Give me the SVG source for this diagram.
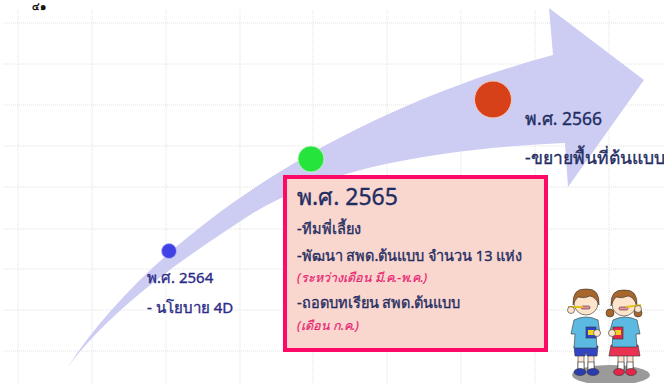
<svg xmlns="http://www.w3.org/2000/svg" width="664" height="383" viewBox="0 0 664 383">
  <style>
    .grid line { stroke: #e2e2e2; stroke-width: 1; stroke-dasharray: 1 1; }
    .t { font-family: "Noto Sans", "DejaVu Sans", sans-serif; }
    .navy { fill: #1f2d62; stroke: #1f2d62; stroke-width: 0.35; }
    .purple { fill: #2b2b88; stroke: #2b2b88; stroke-width: 0.35; }
    .note { fill: #ea1f72; stroke: #ea1f72; stroke-width: 0.2; font-style: italic; font-size: 12.5px; }
    .line { font-size: 14.5px; }
  </style>

  <rect width="664" height="383" fill="#ffffff"/>

  <!-- background grid -->
  <g class="grid">
    <line x1="3" y1="23" x2="664" y2="23"/>
    <line x1="3" y1="64" x2="664" y2="64"/>
    <line x1="3" y1="105" x2="664" y2="105"/>
    <line x1="3" y1="146" x2="664" y2="146"/>
    <line x1="3" y1="187" x2="664" y2="187"/>
    <line x1="3" y1="229" x2="664" y2="229"/>
    <line x1="3" y1="269" x2="664" y2="269"/>
    <line x1="3" y1="310" x2="664" y2="310"/>
    <line x1="3" y1="351" x2="664" y2="351"/>
    <line x1="18" y1="10" x2="18" y2="383"/>
    <line x1="92" y1="10" x2="92" y2="383"/>
    <line x1="166" y1="10" x2="166" y2="383"/>
    <line x1="240" y1="10" x2="240" y2="383"/>
    <line x1="313" y1="10" x2="313" y2="383"/>
    <line x1="387" y1="10" x2="387" y2="383"/>
    <line x1="461" y1="10" x2="461" y2="383"/>
    <line x1="535" y1="10" x2="535" y2="383"/>
    <line x1="609" y1="10" x2="609" y2="383"/>
  </g>

  <!-- page number -->
  <text class="t" x="32" y="10" font-size="10" font-weight="bold" fill="#111">๔๑</text>

  <!-- curved timeline arrow -->
  <g id="arrow">
    <path d="M67 368 C150 240 330 115 553 55 L549 8 L644 80 L568 187 L565 143 C450 148 330 165 250 215 C180 260 110 310 67 368 Z" fill="#cdcdf4"/>
  </g>

  <!-- milestone dots -->
  <g id="dot-2564"><circle cx="169" cy="251" r="7.5" fill="#4141e6" stroke="#b8b8f2" stroke-width="0.8"/></g>
  <g id="dot-2565"><circle cx="311" cy="159" r="13" fill="#25e43c" stroke="#c8f5cc" stroke-width="0.8"/></g>
  <g id="dot-2566"><circle cx="493" cy="99.5" r="18.5" fill="#d6411a" stroke="#f3c9bb" stroke-width="1"/></g>

  <!-- 2564 -->
  <g id="label-2564" class="t purple">
    <text x="147" y="283" font-size="15">พ.ศ. 2564</text>
    <text x="147" y="313" font-size="15">- นโยบาย 4D</text>
  </g>

  <!-- 2566 -->
  <g id="label-2566" class="t navy">
    <text x="525" y="125" font-size="17.5">พ.ศ. 2566</text>
    <text x="525" y="164" font-size="17.5">-ขยายพื้นที่ต้นแบบ</text>
  </g>

  <!-- 2565 detail box -->
  <g id="box-2565">
    <rect x="285" y="177" width="261" height="173" fill="#f9d6ce" stroke="#fc0a66" stroke-width="4"/>
    <g class="t">
      <text class="navy" x="297" y="205" font-size="23">พ.ศ. 2565</text>
      <text class="navy line" x="297" y="234">-ทีมพี่เลี้ยง</text>
      <text class="navy line" x="297" y="261">-พัฒนา สพด.ต้นแบบ จำนวน 13 แห่ง</text>
      <text class="note" x="297" y="282">(ระหว่างเดือน มี.ค.-พ.ค.)</text>
      <text class="navy line" x="297" y="308">-ถอดบทเรียน สพด.ต้นแบบ</text>
      <text class="note" x="297" y="330">(เดือน ก.ค.)</text>
    </g>
  </g>

  <!-- two children brushing their teeth -->
  <g id="kids" stroke="#333" stroke-width="0.6">
    <ellipse cx="611" cy="375" rx="39" ry="10" fill="#9a9a9a" stroke="none"/>
    <!-- boy -->
    <rect x="578" y="354" width="6" height="16" fill="#ffe7d3"/>
    <rect x="588" y="354" width="6" height="16" fill="#ffe7d3"/>
    <rect x="578" y="362" width="6" height="8" fill="#fff"/>
    <rect x="588" y="362" width="6" height="8" fill="#fff"/>
    <ellipse cx="580" cy="372" rx="6" ry="3.5" fill="#2b3cb0"/>
    <ellipse cx="593" cy="372" rx="6" ry="3.5" fill="#2b3cb0"/>
    <path d="M574 346 L598 346 L597 356 L587 356 L586 352 L585 356 L575 356 Z" fill="#3145c4"/>
    <path d="M574 320 Q586 314 598 320 L600 334 L596 334 L597 348 L574 348 L575 334 L571 334 Z" fill="#5cb9e2"/>
    <circle cx="586" cy="303" r="12" fill="#ffe4cc"/>
    <path d="M573 305 Q572 288 586 289 Q600 288 599 305 Q596 297 590 296 Q585 299 578 297 Q575 300 573 305 Z" fill="#a7672c"/>
    <rect x="581" y="306" width="9" height="3" rx="1.5" fill="#f08aa0"/>
    <line x1="568" y1="307" x2="583" y2="307" stroke="#e5c21a" stroke-width="2"/>
    <circle cx="571" cy="310" r="3.5" fill="#ffe4cc"/>
    <rect x="586" y="327" width="10" height="11" fill="#2c44c8"/>
    <rect x="588" y="330" width="6" height="5" fill="#f3d21e" stroke="none"/>
    <circle cx="597" cy="333" r="3.5" fill="#ffe4cc"/>
    <!-- girl -->
    <rect x="618" y="354" width="6" height="16" fill="#ffe7d3"/>
    <rect x="627" y="354" width="6" height="16" fill="#ffe7d3"/>
    <rect x="618" y="362" width="6" height="8" fill="#fff"/>
    <rect x="627" y="362" width="6" height="8" fill="#fff"/>
    <ellipse cx="619" cy="372" rx="5.5" ry="3.5" fill="#e3254a"/>
    <ellipse cx="631" cy="372" rx="5.5" ry="3.5" fill="#e3254a"/>
    <path d="M611 345 L638 345 L640 356 L609 356 Z" fill="#ea3352"/>
    <path d="M613 320 Q625 314 637 320 L640 334 L636 334 L637 347 L612 347 L613 334 L609 334 Z" fill="#5cb9e2"/>
    <circle cx="610" cy="313" r="4" fill="#a7672c"/>
    <circle cx="638" cy="313" r="4" fill="#a7672c"/>
    <circle cx="624" cy="304" r="12" fill="#ffe4cc"/>
    <path d="M611 306 Q610 289 624 290 Q638 289 637 306 Q634 297 628 296 Q622 299 616 297 Q613 300 611 306 Z" fill="#a7672c"/>
    <rect x="619" y="307" width="9" height="3" rx="1.5" fill="#f08aa0"/>
    <line x1="626" y1="307" x2="641" y2="305" stroke="#e5c21a" stroke-width="2"/>
    <circle cx="638" cy="309" r="3.5" fill="#ffe4cc"/>
    <rect x="613" y="327" width="10" height="12" fill="#e3254a"/>
    <rect x="615" y="330" width="6" height="5" fill="#f3d21e" stroke="none"/>
    <circle cx="612" cy="333" r="3.5" fill="#ffe4cc"/>
  </g>
</svg>
